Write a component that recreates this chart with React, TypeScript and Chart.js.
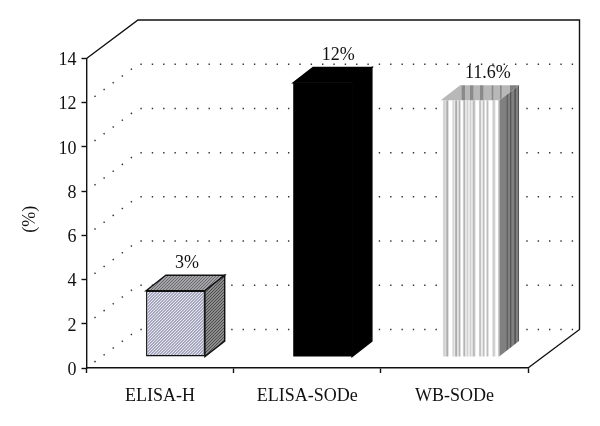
import React, { useEffect, useRef } from "react";
import { Chart, registerables } from "chart.js";

Chart.register(...registerables);

const categories = ["ELISA-H", "ELISA-SODe", "WB-SODe"];
const barHeights = [3, 12.4, 11.6];
const valueLabels = ["3%", "12%", "11.6%"];
const yTicksMax = 14;
const yStep = 2;
const axisTitle = "(%)";

const SERIF = '"Liberation Serif", serif';
const INK = "#111111";
// 3D geometry of the box (pixels)
const WALL_DX = 51.5;
const WALL_DY = 38.5;
const BAR_DX = 15.4;
const BAR_DY = 11;
const DEPTH_DX = 19.8;
const DEPTH_DY = 15.4;
const LABEL_SHIFT = [11.5, 15.5, 18];

type Stripe = [number, number, string];
type Face = { front: any; top: any; side: any; line: string };

let faces: Face[] = [];

function makeDiag(base: string, ink: string, size = 4) {
  const c = document.createElement("canvas");
  c.width = size;
  c.height = size;
  const g = c.getContext("2d")!;
  g.fillStyle = base;
  g.fillRect(0, 0, size, size);
  g.fillStyle = ink;
  for (let i = 0; i < size; i++) g.fillRect(size - 1 - i, i, 1, 1);
  return g.createPattern(c, "repeat")!;
}

function makeStripes(base: string, stripes: Stripe[]) {
  const c = document.createElement("canvas");
  c.width = 600;
  c.height = 1;
  const g = c.getContext("2d")!;
  g.fillStyle = base;
  g.fillRect(0, 0, 600, 1);
  for (const [x, w, col] of stripes) {
    g.fillStyle = col;
    g.fillRect(x, 0, w, 1);
  }
  return g.createPattern(c, "repeat")!;
}

const wbFront: Stripe[] = (
  [
    [443.3, 1.7, "#c4c4c4"], [446, 2.3, "#a8a8a8"], [452.7, 1.4, "#c4c4c4"], [455.3, 1.7, "#909090"],
    [458.7, 1.6, "#a4a4a4"], [463.3, 2, "#b0b0b0"], [466.7, 1.6, "#c4c4c4"], [470, 1, "#a0a0a0"],
    [472.7, 2.3, "#b0b0b0"], [479.3, 1.7, "#b0b0b0"], [483, 1.3, "#a0a0a0"], [486.7, 1.6, "#b0b0b0"],
    [492.7, 2.3, "#c4c4c4"], [498.5, 1, "#a0a0a0"],
  ] as Stripe[]
).map(([x, w, c]) => [x - BAR_DX, w, c] as Stripe);
const wbTop: Stripe[] = [
  [461.7, 3.3, "#8a8a8a"], [470, 3.3, "#8a8a8a"], [480, 3.3, "#8a8a8a"], [491.7, 1.6, "#8a8a8a"],
  [500, 1.7, "#8a8a8a"], [510, 9, "#808080"],
];
const wbSide: Stripe[] = [
  [506.7, 1, "#555555"], [510, 1.3, "#555555"], [514.3, 1.7, "#555555"], [518, 1, "#555555"],
];

const box3d = {
  id: "box3d",
  beforeDraw(chart: any) {
    const { ctx, chartArea: a, scales } = chart;
    const y = scales.y;
    ctx.save();
    // dotted floor / wall grid, one per axis value below the top
    ctx.strokeStyle = "#333333";
    ctx.lineWidth = 1.5;
    ctx.setLineDash([1.4, 9.95]);
    ctx.lineDashOffset = 1.4;
    for (const t of y.ticks) {
      if (t.value >= yTicksMax) continue;
      const py = y.getPixelForValue(t.value);
      ctx.beginPath();
      ctx.moveTo(a.left, py);
      ctx.lineTo(a.left + WALL_DX, py - WALL_DY);
      ctx.lineTo(a.right + WALL_DX, py - WALL_DY);
      ctx.stroke();
    }
    ctx.setLineDash([]);
    // solid outline of the box
    ctx.strokeStyle = INK;
    ctx.lineWidth = 1.4;
    ctx.beginPath();
    ctx.moveTo(a.left, a.top);
    ctx.lineTo(a.left + WALL_DX, a.top - WALL_DY);
    ctx.lineTo(a.right + WALL_DX, a.top - WALL_DY);
    ctx.lineTo(a.right + WALL_DX, a.bottom - WALL_DY);
    ctx.lineTo(a.right, a.bottom);
    ctx.stroke();
    ctx.restore();
  },
  beforeDatasetsDraw(chart: any) {
    const { ctx } = chart;
    const meta = chart.getDatasetMeta(0);
    ctx.save();
    meta.data.forEach((el: any, i: number) => {
      const { x, y, base, width } = el.getProps(["x", "y", "base", "width"], true);
      const l = x - width / 2 + BAR_DX;
      const r = x + width / 2 + BAR_DX;
      const t = y - BAR_DY;
      const b = base - BAR_DY;
      const f = faces[i];
      ctx.lineJoin = "miter";
      // top face
      ctx.beginPath();
      ctx.moveTo(l, t);
      ctx.lineTo(l + DEPTH_DX, t - DEPTH_DY);
      ctx.lineTo(r + DEPTH_DX, t - DEPTH_DY);
      ctx.lineTo(r, t);
      ctx.closePath();
      ctx.fillStyle = f.top;
      ctx.fill();
      if (f.line) {
        ctx.strokeStyle = f.line;
        ctx.lineWidth = 1.4;
        ctx.stroke();
      }
      // side face
      ctx.beginPath();
      ctx.moveTo(r, t);
      ctx.lineTo(r + DEPTH_DX, t - DEPTH_DY);
      ctx.lineTo(r + DEPTH_DX, b - DEPTH_DY);
      ctx.lineTo(r, b);
      ctx.closePath();
      ctx.fillStyle = f.side;
      ctx.fill();
      if (f.line) {
        ctx.strokeStyle = f.line;
        ctx.lineWidth = 1.4;
        ctx.stroke();
      }
    });
    ctx.restore();
    // the library's own bars are the front faces, moved onto the floor
    ctx.save();
    ctx.translate(BAR_DX, -BAR_DY);
  },
  afterDatasetsDraw(chart: any) {
    const { ctx, chartArea: a } = chart;
    ctx.restore();
    const meta = chart.getDatasetMeta(0);
    ctx.save();
    ctx.fillStyle = "#111111";
    ctx.font = `18px ${SERIF}`;
    ctx.textAlign = "center";
    ctx.textBaseline = "alphabetic";
    meta.data.forEach((el: any, i: number) => {
      const { x, y } = el.getProps(["x", "y"], true);
      ctx.fillText(valueLabels[i], x + BAR_DX + LABEL_SHIFT[i], y - BAR_DY - DEPTH_DY - 7);
    });
    // rotated axis title, a little below the middle of the axis
    ctx.translate(30, (a.top + a.bottom) / 2 + 6);
    ctx.rotate(-Math.PI / 2);
    ctx.textBaseline = "middle";
    ctx.fillText(axisTitle, 0, 0);
    ctx.restore();
  },
};

export default function App() {
  const ref = useRef<HTMLCanvasElement>(null);
  useEffect(() => {
    document.body.style.margin = "0";
    faces = [
      {
        front: makeDiag("#e6e6f2", "#6c6c8c", 3),
        top: makeDiag("#a4a4a8", "#6a6a6e", 3),
        side: makeDiag("#8c8c8c", "#4c4c4c", 3),
        line: "#111111",
      },
      { front: "#000000", top: "#000000", side: "#000000", line: "#000000" },
      {
        front: makeStripes("#ffffff", wbFront),
        top: makeStripes("#b8b8b8", wbTop),
        side: makeStripes("#808080", wbSide),
        line: "",
      },
    ];
    const chart = new Chart(ref.current!, {
      type: "bar",
      data: {
        labels: categories,
        datasets: [
          {
            data: barHeights,
            backgroundColor: faces.map((f) => f.front),
            borderColor: "#111111",
            borderWidth: [1.4, 0, 0],
            borderSkipped: false,
            barPercentage: 0.4,
            categoryPercentage: 1,
            clip: false,
          } as any,
        ],
      },
      options: {
        responsive: false,
        animation: false,
        events: [],
        layout: { autoPadding: false, padding: { left: 0, right: 72, top: 58.5, bottom: 0 } },
        plugins: { legend: { display: false }, tooltip: { enabled: false }, title: { display: false } },
        scales: {
          x: {
            afterFit: (s: any) => {
              s.height = 58;
            },
            grid: { drawOnChartArea: false, tickLength: 5, tickColor: INK, tickWidth: 1.4 },
            border: { color: INK, width: 1.4 },
            ticks: { color: "#111111", font: { family: SERIF, size: 18 }, padding: 12, maxRotation: 0 },
          },
          y: {
            min: 0,
            max: yTicksMax,
            afterFit: (s: any) => {
              s.width = 86.5;
            },
            grid: { drawOnChartArea: false, tickLength: 5, tickColor: INK, tickWidth: 1.4 },
            border: { color: INK, width: 1.4 },
            ticks: {
              stepSize: yStep,
              color: "#111111",
              font: { family: SERIF, size: 18 },
              padding: 5,
              labelOffset: 2,
            },
          },
        },
      },
      plugins: [box3d],
    } as any);
    return () => chart.destroy();
  }, []);
  return (
    <div style={{ width: 600, height: 426 }}>
      <canvas ref={ref} width={600} height={426} style={{ display: "block" }} />
    </div>
  );
}
